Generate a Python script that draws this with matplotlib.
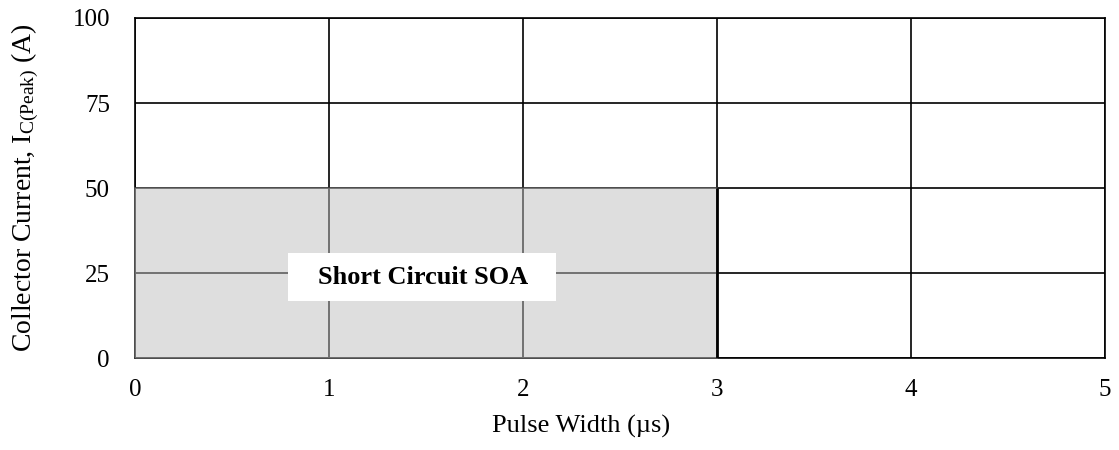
import matplotlib
matplotlib.use('Agg')
import matplotlib.pyplot as plt
from matplotlib.patches import Rectangle

plt.rcParams['font.family'] = ['Liberation Serif', 'DejaVu Serif']
plt.rcParams['mathtext.fontset'] = 'custom'
plt.rcParams['mathtext.rm'] = 'Liberation Serif'
plt.rcParams['mathtext.it'] = 'Liberation Serif:italic'

# ---------- data ----------
x_ticks = [0, 1, 2, 3, 4, 5]
y_ticks = [0, 25, 50, 75, 100]
soa_x = [0, 3, 3, 0]          # pulse width (us)
soa_y = [0, 0, 50, 50]        # collector current (A)
label_text = 'Short Circuit SOA'

fig = plt.figure(figsize=(11.19, 4.5), dpi=100)
ax = fig.add_axes([0.1206, 0.2044, 0.8669, 0.7556])

ax.set_xlim(x_ticks[0], x_ticks[-1])
ax.set_ylim(y_ticks[0], y_ticks[-1])
ax.set_xticks(x_ticks)
ax.set_yticks(y_ticks)
ax.tick_params(length=0, labelsize=18)
ax.tick_params(axis='x', pad=15)
ax.tick_params(axis='y', pad=18)
ax.grid(color='black', linewidth=1.2, zorder=1)
ax.set_axisbelow(True)
for sp in ax.spines.values():
    sp.set_linewidth(1.2)
    sp.set_zorder(1)

# shaded SOA region, drawn over grid and spines
ax.fill(soa_x, soa_y, facecolor='#bfbfbf', alpha=0.5, edgecolor='#808080',
        linewidth=1.2, zorder=4, clip_on=False)
ax.plot([soa_x[1], soa_x[2]], [soa_y[1], soa_y[2]], color='black',
        linewidth=2, zorder=5, solid_capstyle='butt')

# white label box
ax.add_patch(Rectangle((0.79, 16.8), 1.38, 14.1, facecolor='white',
                       edgecolor='none', zorder=6))
ax.text(1.485, 23.6, label_text, ha='center', va='center',
        fontsize=19, fontweight='bold', zorder=7)

ax.set_xlabel('Pulse Width (\u00b5s)', fontsize=19, labelpad=10)
ax.xaxis.label.set_x(0.46)
ax.set_ylabel(r'Collector Current, I$_{\mathrm{C(Peak)}}$ (A)', fontsize=20,
              labelpad=23)

fig.savefig('out.png', dpi=100)
